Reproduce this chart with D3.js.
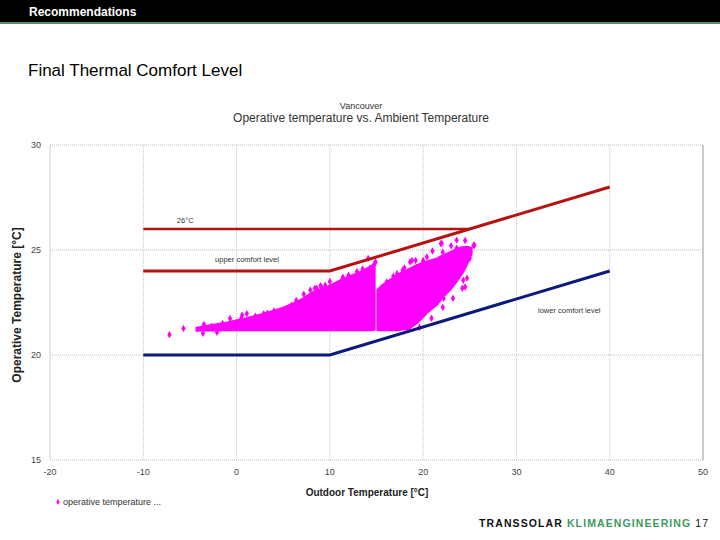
<!DOCTYPE html>
<html>
<head>
<meta charset="utf-8">
<script src="https://cdn.jsdelivr.net/npm/d3@7"></script>
<style>
  body { margin: 0; background: #fff; }
  text { font-family: "Liberation Sans", Arial, sans-serif; }
</style>
</head>
<body>
<div id="chart"></div>
<script>
// axis ticks
var xTicks = [-20, -10, 0, 10, 20, 30, 40, 50];
var yTicks = [15, 20, 25, 30];

// comfort lines (outdoor temp, operative temp)
var upperComfort = [[-10, 24], [10, 24], [40, 28]];
var lowerComfort = [[-10, 20], [10, 20], [40, 24]];
var line26 = [[-10, 26], [25, 26]];

// dense part of the scatter cloud, read as envelopes
var cloudAX = [-4.3, -3, -1, 1, 3.2, 5, 6.8, 8.2, 10, 11.4, 13.2, 14.3, 14.8];
var cloudATop = [21.3, 21.4, 21.55, 21.75, 22.0, 22.25, 22.6, 23.0, 23.3, 23.62, 23.95, 24.2, 24.35];
var cloudABot = [21.15, 21.17, 21.18, 21.18, 21.18, 21.18, 21.18, 21.18, 21.18, 21.18, 21.18, 21.18, 21.2];

var cloudBX = [15.1, 15.6, 17.2, 18.5, 19.3, 20.4, 21.5, 22.1, 22.9, 23.6, 24.3, 24.8, 25.2];
var cloudBTop = [23.1, 23.32, 23.8, 24.1, 24.28, 24.45, 24.6, 24.75, 24.9, 25.05, 25.14, 25.15, 25.1];
var cloudBBot = [21.18, 21.18, 21.18, 21.25, 21.5, 22.0, 22.4, 22.75, 23.1, 23.5, 23.95, 24.4, 24.8];

// loose points around the cloud
var pointsX = [-7.2, -5.7, -3.6, -3.5, -2.7, -2.1, -1.5, -1.5, -0.7, 0.5, 0.6, 1.1, 2.0, 2.9, 3.3, 4.0, 5.0,
  5.9, 6.4, 6.8, 7.2, 7.9, 8.4, 8.6, 9.0, 9.2, 9.5, 10.0, 11.4, 11.4, 12.0, 12.9, 13.5, 14.1, 14.3, 14.8,
  14.9, 15.5, 15.7, 16.1, 16.8, 17.2, 17.8, 18.0, 18.6, 18.8, 19.2, 19.6, 20.0, 20.0, 20.4, 20.9, 21.0,
  21.9, 22.0, 22.1, 22.1, 22.2, 22.9, 23.0, 23.2, 23.6, 23.6, 24.2, 24.3, 24.5, 24.5, 24.7, 25.0, 25.0,
  25.4, 25.5];
var pointsY = [20.97, 21.26, 21.03, 21.45, 21.37, 21.08, 21.5, 21.42, 21.74, 21.75, 21.9, 21.97, 21.85, 21.97, 21.99, 22.1, 22.13,
  22.37, 22.6, 22.5, 22.9, 23.09, 23.18, 23.17, 23.3, 23.18, 23.32, 23.5, 23.64, 23.7, 23.8, 23.96, 24.1, 24.6, 24.13, 24.36,
  24.43, 23.09, 23.18, 23.48, 23.75, 23.88, 24.04, 24.15, 24.43, 24.5, 24.5, 21.32, 24.43, 24.5, 24.67, 21.75, 24.95,
  25.31, 25.31, 24.9, 22.27, 22.7, 24.04, 25.2, 22.7, 25.47, 25.09, 23.18, 23.56, 23.24, 25.45, 23.66, 24.6, 24.85,
  25.22, 25.23];

var W = 720, H = 540;
var svg = d3.select("#chart").append("svg")
  .attr("width", W)
  .attr("height", H);

// header bar
svg.append("rect").attr("x", 0).attr("y", 0).attr("width", W).attr("height", 22).attr("fill", "#000");
svg.append("rect").attr("x", 0).attr("y", 22).attr("width", W).attr("height", 2).attr("fill", "#5b8f6b");
svg.append("text").attr("x", 29).attr("y", 16)
  .attr("fill", "#fff").attr("font-size", "12px").attr("font-weight", "bold")
  .text("Recommendations");

svg.append("text").attr("x", 28).attr("y", 76)
  .attr("fill", "#000").attr("font-size", "17px")
  .text("Final Thermal Comfort Level");

// chart titles
svg.append("text").attr("x", 361).attr("y", 109)
  .attr("text-anchor", "middle").attr("font-size", "9px").attr("fill", "#333")
  .text("Vancouver");
svg.append("text").attr("x", 361).attr("y", 122)
  .attr("text-anchor", "middle").attr("font-size", "12px").attr("fill", "#333")
  .text("Operative temperature vs. Ambient Temperature");

var x = d3.scaleLinear().domain([-20, 50]).range([50, 703]);
var y = d3.scaleLinear().domain([15, 30]).range([460, 145]);

var plot = svg.append("g");

// grid
plot.selectAll(".vgrid")
  .data(xTicks.slice(1, -1))
  .enter().append("line")
  .attr("x1", d => x(d)).attr("x2", d => x(d))
  .attr("y1", y(30)).attr("y2", y(15))
  .attr("stroke", "#c4c4c4").attr("stroke-width", 1).attr("stroke-dasharray", "1,1");
plot.selectAll(".hgrid")
  .data(yTicks)
  .enter().append("line")
  .attr("x1", x(-20)).attr("x2", x(50))
  .attr("y1", d => y(d)).attr("y2", d => y(d))
  .attr("stroke", "#bdbdbd").attr("stroke-width", 1).attr("stroke-dasharray", "1,1");
plot.append("line")
  .attr("x1", x(-20)).attr("x2", x(-20)).attr("y1", y(30)).attr("y2", y(15))
  .attr("stroke", "#d0d0d0");
plot.append("line")
  .attr("x1", x(50)).attr("x2", x(50)).attr("y1", y(30)).attr("y2", y(15))
  .attr("stroke", "#b8b8b8").attr("stroke-width", 1.5);

// tick labels
svg.selectAll(".ytick")
  .data(yTicks)
  .enter().append("text")
  .attr("x", 41).attr("y", d => y(d) + 3)
  .attr("text-anchor", "end").attr("font-size", "9px").attr("fill", "#444")
  .text(d => d);
svg.selectAll(".xtick")
  .data(xTicks)
  .enter().append("text")
  .attr("x", d => x(d)).attr("y", 475)
  .attr("text-anchor", "middle").attr("font-size", "9px").attr("fill", "#444")
  .text(d => d);

// axis titles
svg.append("text")
  .attr("transform", "translate(21,305) rotate(-90)")
  .attr("text-anchor", "middle").attr("font-size", "12px").attr("font-weight", "bold").attr("fill", "#222")
  .text("Operative Temperature [°C]");
svg.append("text")
  .attr("x", 367).attr("y", 496)
  .attr("text-anchor", "middle").attr("font-size", "10px").attr("font-weight", "bold").attr("fill", "#222")
  .text("Outdoor Temperature [°C]");

// scatter cloud
var area = d3.area()
  .x(d => x(d[0]))
  .y0(d => y(d[2]))
  .y1(d => y(d[1]));

var cloudA = cloudAX.map((v, i) => [v, cloudATop[i], cloudABot[i]]);
var cloudB = cloudBX.map((v, i) => [v, cloudBTop[i], cloudBBot[i]]);

plot.selectAll(".cloud")
  .data([cloudA, cloudB])
  .enter().append("path")
  .attr("d", area)
  .attr("fill", "#ff00ff")
  .attr("stroke", "#ff00ff")
  .attr("stroke-width", 2)
  .attr("stroke-linejoin", "round");

var diamond = d3.symbol().type(d3.symbolDiamond).size(16);
plot.selectAll(".pt")
  .data(pointsX.map((v, i) => [v, pointsY[i]]))
  .enter().append("path")
  .attr("d", diamond)
  .attr("transform", d => `translate(${x(d[0])},${y(d[1])})`)
  .attr("fill", "#ff00ff");

// comfort lines
var line = d3.line().x(d => x(d[0])).y(d => y(d[1]));
plot.append("path").datum(line26).attr("d", line)
  .attr("fill", "none").attr("stroke", "#b51212").attr("stroke-width", 2.5);
plot.append("path").datum(upperComfort).attr("d", line)
  .attr("fill", "none").attr("stroke", "#b51212").attr("stroke-width", 3);
plot.append("path").datum(lowerComfort).attr("d", line)
  .attr("fill", "none").attr("stroke", "#0c1a7a").attr("stroke-width", 3);

// line labels
plot.append("text").attr("x", x(-6.4)).attr("y", y(26) - 6)
  .attr("font-size", "7.5px").attr("fill", "#333").text("26°C");
plot.append("text").attr("x", x(-2.3)).attr("y", y(24) - 9)
  .attr("font-size", "7.5px").attr("fill", "#333").text("upper comfort level");
plot.append("rect").attr("x", 535).attr("y", 303).attr("width", 73).attr("height", 15).attr("fill", "#fff");
plot.append("text").attr("x", 538).attr("y", 313)
  .attr("font-size", "7.5px").attr("fill", "#333").text("lower comfort level");

// legend
svg.append("path")
  .attr("d", d3.symbol().type(d3.symbolDiamond).size(10))
  .attr("transform", "translate(58,502)")
  .attr("fill", "#ff00ff");
svg.append("text").attr("x", 63).attr("y", 505)
  .attr("font-size", "9px").attr("fill", "#333").text("operative temperature ...");

// footer
var footer = svg.append("text").attr("x", 479).attr("y", 527)
  .attr("font-family", "DejaVu Sans Mono").attr("font-size", "10.5px").attr("letter-spacing", "1.1px");
footer.append("tspan").attr("font-weight", "bold").attr("fill", "#111").text("TRANSSOLAR ");
footer.append("tspan").attr("font-weight", "bold").attr("fill", "#3e9a5c").text("KLIMAENGINEERING ");
footer.append("tspan").attr("fill", "#111").text("17");
</script>
</body>
</html>
